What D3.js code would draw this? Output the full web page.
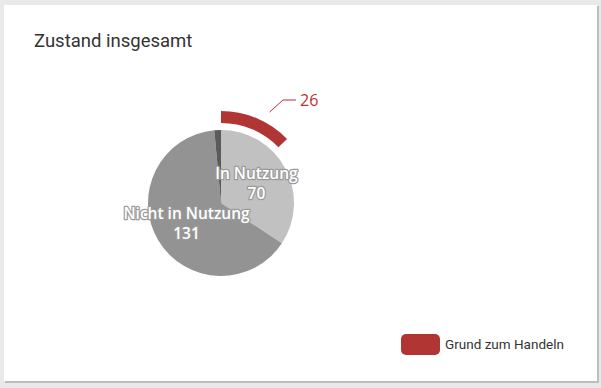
<!DOCTYPE html>
<html>
<head>
<meta charset="utf-8">
<script src="https://cdn.jsdelivr.net/npm/d3@7"></script>
<style>
  body { margin: 0; background: #e9e9e9; }
  svg { display: block; }
</style>
</head>
<body>
<script>
// chart data
var categories = ["In Nutzung", "Nicht in Nutzung", "Unbekannt"];
var values = [70, 131, 3];
var colors = ["#c1c1c1", "#939393", "#5a5a5a"];
var showLabel = [true, true, false];

// outer ring (part of "In Nutzung")
var ringName = "Grund zum Handeln";
var ringValue = 26;

var w = 601, h = 388;
var cx = 221, cy = 203, r = 73;

var svg = d3.select("body").append("svg")
    .attr("width", w)
    .attr("height", h);

// card shadow + card
svg.append("rect")
    .attr("x", 5).attr("y", 6).attr("width", 594).attr("height", 377)
    .style("fill", "#bdbdbd");
svg.append("rect")
    .attr("x", 4).attr("y", 5).attr("width", 593).attr("height", 376)
    .style("fill", "#fff");

// title
svg.append("text")
    .attr("x", 34).attr("y", 47)
    .style("font-family", "Roboto")
    .style("font-size", "18.5px")
    .style("fill", "#333")
    .text("Zustand insgesamt");

var total = d3.sum(values);
var angle = d3.scaleLinear().domain([0, total]).range([0, 2 * Math.PI]);

var pie = d3.pie().sort(null).value(function(d){ return d; });
var arcs = pie(values);
var arc = d3.arc().innerRadius(0).outerRadius(r);

var g = svg.append("g").attr("transform", "translate(" + cx + "," + cy + ")");

g.selectAll(".slice")
    .data(arcs)
    .enter()
    .append("path")
    .attr("class", "slice")
    .attr("d", arc)
    .style("fill", function(d, i){ return colors[i]; });

// outer red ring
var ringArc = d3.arc().innerRadius(80).outerRadius(92);
var ringDatum = { startAngle: 0, endAngle: angle(ringValue) };
g.append("path")
    .attr("d", ringArc(ringDatum))
    .style("fill", "#b03533");

// leader line + value
var a0 = angle(ringValue) / 2 + 0.09;
var p0 = [Math.sin(a0) * 103, -Math.cos(a0) * 103];
var p1 = [62, -103], p2 = [75, -103];
g.append("polyline")
    .attr("points", [p0, p1, p2].map(function(p){ return p.join(","); }).join(" "))
    .style("fill", "none")
    .style("stroke", "#b03533")
    .style("stroke-width", 1);
g.append("text")
    .attr("x", p2[0] + 4).attr("y", p2[1] + 6)
    .style("font-family", "'Open Sans'")
    .style("font-size", "16px")
    .style("fill", "#b03533")
    .text(ringValue);

// slice labels with halo
var labelArc = d3.arc().innerRadius(r * 0.55).outerRadius(r * 0.55);
var labels = g.selectAll(".lbl")
    .data(arcs.filter(function(d, i){ return showLabel[i]; }))
    .enter()
    .append("text")
    .attr("class", "lbl")
    .attr("text-anchor", "middle")
    .attr("transform", function(d){
        var c = labelArc.centroid(d);
        return "translate(" + c[0] + "," + c[1] + ")";
    })
    .style("font-family", "'Open Sans'")
    .style("font-size", "15.5px")
    .style("font-weight", 600)
    .style("fill", "#fff")
    .style("stroke", "#9a9a9a")
    .style("stroke-width", 2.5)
    .style("stroke-linejoin", "round")
    .style("paint-order", "stroke");

labels.append("tspan")
    .attr("x", 0).attr("dy", -5)
    .text(function(d){ return categories[d.index]; });
labels.append("tspan")
    .attr("x", 0).attr("dy", 20)
    .text(function(d){ return d.value; });

// legend
svg.append("rect")
    .attr("x", 401).attr("y", 334).attr("width", 39).attr("height", 21)
    .attr("rx", 5)
    .style("fill", "#b03533");
svg.append("text")
    .attr("x", 445).attr("y", 349)
    .style("font-family", "Roboto")
    .style("font-size", "13.5px")
    .style("fill", "#333")
    .text(ringName);
</script>
</body>
</html>
